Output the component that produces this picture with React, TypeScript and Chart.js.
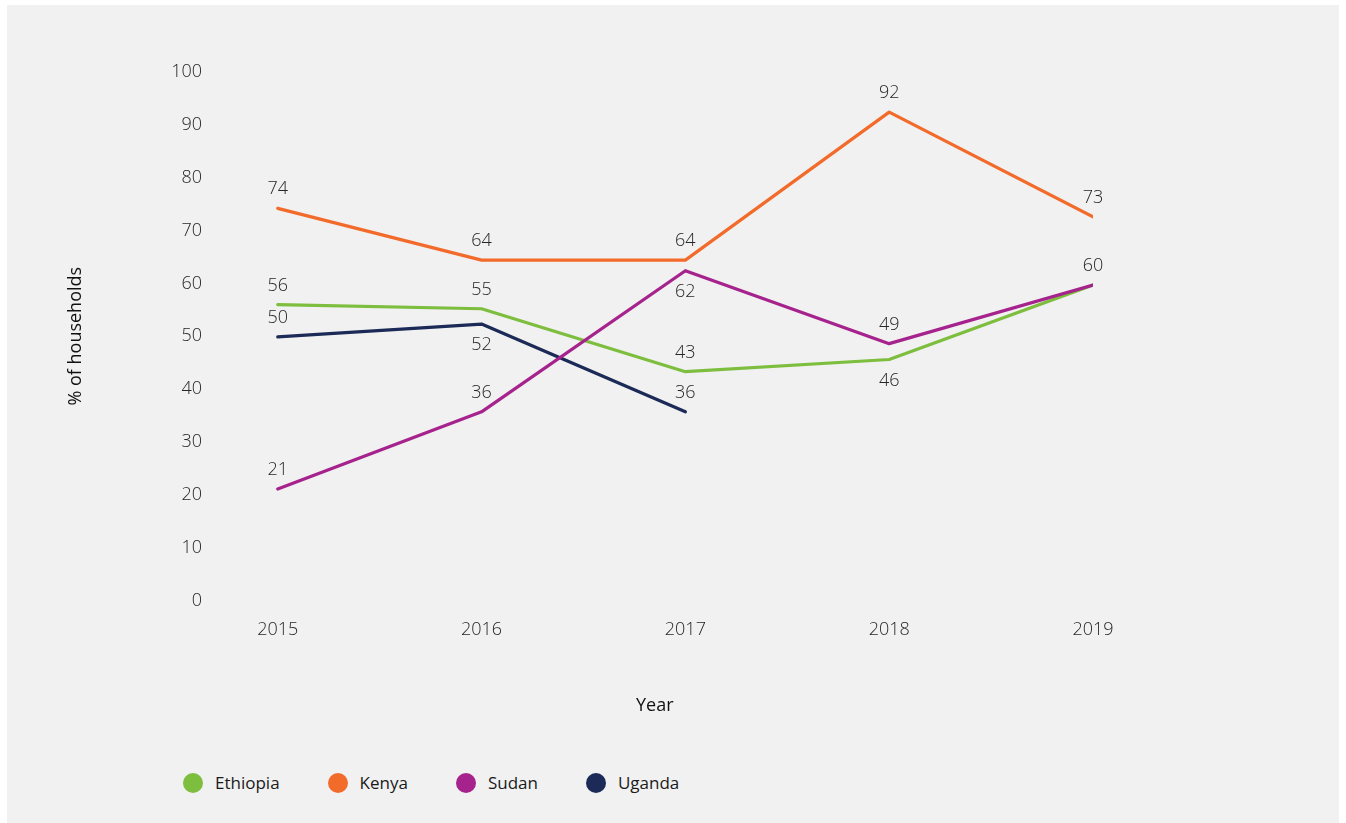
import React, { useEffect, useRef } from 'react';
import { Chart, registerables } from 'chart.js';

Chart.register(...registerables);

const years = [2015, 2016, 2017, 2018, 2019];
const seriesNames = ['Ethiopia', 'Kenya', 'Sudan', 'Uganda'];
const ethiopia = [56.0, 55.2, 43.3, 45.6, 59.7];
const kenya = [74.2, 64.4, 64.4, 92.4, 72.6];
const sudan = [21.1, 35.7, 62.4, 48.6, 59.7];
const uganda = [49.9, 52.3, 35.7];
const seriesColors = ['#7dbe3e', '#f26b2b', '#a6228d', '#1b2a57'];
// value label placement: a = above, b = below, '' = not shown
const ethiopiaLabelPos = ['a', 'a', 'a', 'b', ''];
const kenyaLabelPos = ['a', 'a', 'a', 'a', 'a'];
const sudanLabelPos = ['a', 'a', 'b', 'a', 'a'];
const ugandaLabelPos = ['a', 'b', 'a'];

const allSeries = [ethiopia, kenya, sudan, uganda];
const allLabelPos = [ethiopiaLabelPos, kenyaLabelPos, sudanLabelPos, ugandaLabelPos];

const FONT = '"Open Sans", "Noto Sans", sans-serif';

const valueLabels = {
  id: 'valueLabels',
  afterDatasetsDraw(chart: any) {
    const ctx = chart.ctx;
    ctx.save();
    ctx.font = `300 18px ${FONT}`;
    ctx.fillStyle = '#262626';
    ctx.textAlign = 'center';
    ctx.textBaseline = 'middle';
    chart.data.datasets.forEach((ds: any, i: number) => {
      const meta = chart.getDatasetMeta(i);
      const pos = allLabelPos[i];
      meta.data.forEach((pt: any, j: number) => {
        const p = pos[j];
        if (!p) return;
        const v = ds.data[j].y;
        const dy = p === 'a' ? -19 : 21;
        ctx.fillText(String(Math.round(v)), pt.x, pt.y + dy);
      });
    });
    ctx.restore();
  },
};

export default function App() {
  const canvasRef = useRef<HTMLCanvasElement | null>(null);

  useEffect(() => {
    if (!canvasRef.current) return;
    const datasets = allSeries.map((vals, i) => ({
      label: seriesNames[i],
      data: vals.map((v, j) => ({ x: years[j], y: v })),
      borderColor: seriesColors[i],
      backgroundColor: seriesColors[i],
      borderWidth: 3.2,
      borderCapStyle: 'round' as const,
      borderJoinStyle: 'round' as const,
      pointRadius: 0,
      tension: 0,
      fill: false,
      order: i === 2 ? -1 : 0,
    }));

    const chart = new Chart(canvasRef.current, {
      type: 'line',
      data: { datasets },
      plugins: [valueLabels],
      options: {
        animation: false,
        responsive: true,
        maintainAspectRatio: false,
        layout: { padding: { top: 67, right: 246, bottom: 0, left: 0 } },
        plugins: {
          legend: { display: false },
          tooltip: { enabled: false },
        },
        scales: {
          x: {
            type: 'linear',
            min: 2014.7,
            max: 2019,
            grid: { display: false, drawTicks: false },
            border: { display: false },
            ticks: {
              stepSize: 1,
              includeBounds: false,
              padding: 19,
              color: '#262626',
              font: { family: FONT, size: 18, weight: '300' as any },
              callback: (v: any) => String(v),
            },
            title: {
              display: true,
              text: 'Year',
              color: '#111111',
              font: { family: FONT, size: 18, lineHeight: 1.2 },
              padding: { top: 0, bottom: 28.5 },
            },
            afterFit: (s: any) => {
              s.height = 144.5;
            },
          },
          y: {
            min: 0,
            max: 100,
            grid: { display: false, drawTicks: false },
            border: { display: false },
            ticks: {
              stepSize: 10,
              padding: 14.6,
              color: '#262626',
              font: { family: FONT, size: 18, weight: '300' as any },
            },
            title: {
              display: true,
              text: '% of households',
              color: '#111111',
              font: { family: FONT, size: 18, lineHeight: 1.2 },
              padding: { top: 58.2, bottom: 0 },
            },
            afterFit: (s: any) => {
              s.width = 209.6;
            },
          },
        },
      },
    });
    return () => chart.destroy();
  }, []);

  return (
    <div
      style={{
        position: 'absolute',
        left: 7,
        top: 5,
        width: 1332,
        height: 818,
        background: '#f1f1f1',
      }}
    >
      <div style={{ position: 'absolute', left: 0, top: 0, width: 1332, height: 740 }}>
        <canvas ref={canvasRef} />
      </div>
      <div
        style={{
          position: 'absolute',
          left: 176,
          top: 768,
          height: 20,
          display: 'flex',
          alignItems: 'center',
          fontFamily: FONT,
          fontSize: 17,
          color: '#1a1a1a',
        }}
      >
        {seriesNames.map((name, i) => (
          <div key={name} style={{ display: 'flex', alignItems: 'center', marginRight: 48 }}>
            <span
              style={{
                display: 'inline-block',
                width: 20,
                height: 20,
                borderRadius: '50%',
                background: seriesColors[i],
                marginRight: 12,
              }}
            />
            <span style={{ lineHeight: '20px' }}>{name}</span>
          </div>
        ))}
      </div>
    </div>
  );
}
